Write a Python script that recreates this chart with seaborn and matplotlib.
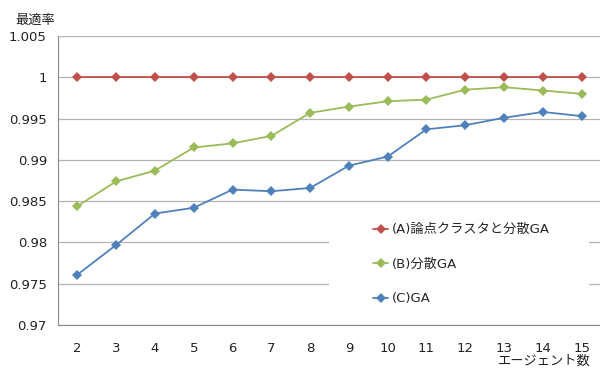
import matplotlib
matplotlib.use("Agg")
import matplotlib.pyplot as plt
from matplotlib.patches import Rectangle
import seaborn as sns
import pandas as pd
import numpy as np

agents = [2, 3, 4, 5, 6, 7, 8, 9, 10, 11, 12, 13, 14, 15]
series_a = [1.0] * 14
series_b = [0.9844, 0.9874, 0.9887, 0.9915, 0.9920, 0.9929, 0.9957,
            0.99645, 0.9971, 0.9973, 0.9985, 0.9988, 0.9984, 0.9980]
series_c = [0.9761, 0.9797, 0.9835, 0.9842, 0.9864, 0.9862, 0.9866,
            0.9893, 0.9904, 0.9937, 0.9942, 0.9951, 0.9958, 0.9953]
labels = ["(A)論点クラスタと分散GA", "(B)分散GA", "(C)GA"]
colors = ["#C0504D", "#9BBB59", "#4F81BD"]
y_ticks = [0.97, 0.975, 0.98, 0.985, 0.99, 0.995, 1.0, 1.005]
y_tick_labels = ["0.97", "0.975", "0.98", "0.985", "0.99", "0.995", "1", "1.005"]

sns.set_style("white")
plt.rcParams["font.family"] = ["DejaVu Sans", "Noto Sans CJK JP"]

rows = []
for lab, vals in zip(labels, [series_a, series_b, series_c]):
    for i, v in enumerate(vals):
        rows.append({"pos": i, "value": v, "series": lab})
df = pd.DataFrame(rows)

fig = plt.figure(figsize=(6.0, 3.69), dpi=100)
ax = fig.add_axes([0.0967, 0.1192, 0.905, 0.7832])

sns.lineplot(data=df, x="pos", y="value", hue="series", hue_order=labels,
             palette=colors, marker="D", markersize=5, linewidth=1.3,
             markeredgewidth=0, ax=ax, zorder=3)

ax.set_xlim(-0.5, len(agents) - 0.5)
ax.set_ylim(0.97, 1.005)
ax.set_yticks(y_ticks)
ax.set_yticklabels(y_tick_labels)
ax.set_xticks(range(len(agents)))
ax.set_xticklabels([str(a) for a in agents])
ax.set_xticks(np.arange(-0.5, len(agents), 1.0), minor=True)
ax.tick_params(axis="x", which="major", length=0, pad=12, labelsize=9.5, colors="#222222")
ax.tick_params(axis="x", which="minor", length=4, width=0.8, color="#888888", direction="out")
ax.tick_params(axis="y", which="major", length=4, width=0.8, color="#888888",
               direction="out", labelsize=9.5, labelcolor="#222222", pad=4)

ax.grid(axis="y", color="#b4b4b4", linewidth=0.9, zorder=0)
ax.set_axisbelow(True)
for side in ["top", "right"]:
    ax.spines[side].set_visible(False)
for side in ["left", "bottom"]:
    ax.spines[side].set_color("#888888")
    ax.spines[side].set_linewidth(0.8)

ax.set_xlabel("")
ax.set_ylabel("")
fig.text(0.025, 0.945, "最適率", fontsize=9.5, color="#222222", ha="left", va="center")
fig.text(0.985, 0.022, "エージェント数", fontsize=9.5, color="#222222", ha="right", va="center")

# white legend panel covering the gridlines behind it
ax.add_patch(Rectangle((0.499, 0.024), 0.478, 0.398, transform=ax.transAxes,
                       facecolor="white", edgecolor="none", zorder=1))

leg = ax.legend(loc="upper left", bbox_to_anchor=(0.580, 0.352), frameon=False,
                fontsize=9.5, handlelength=1.15, handletextpad=0.25,
                labelspacing=1.63, borderpad=0.0, borderaxespad=0.0)
leg.set_zorder(5)

fig.savefig("out.png", dpi=100)
